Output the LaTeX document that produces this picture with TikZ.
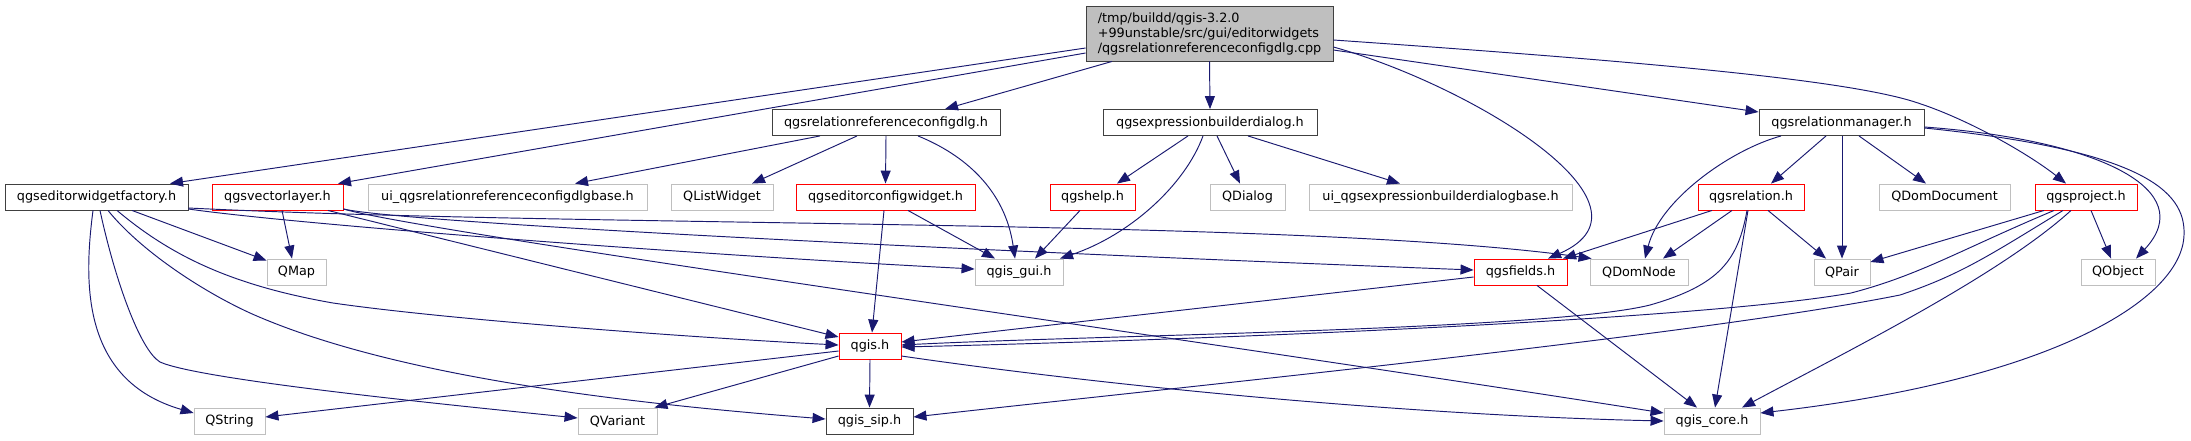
\documentclass[tikz,border=0pt]{standalone}
\usepackage{fontspec}
\setmainfont{DejaVu Sans}
\usetikzlibrary{arrows.meta}
\definecolor{edgec}{HTML}{191970}
\definecolor{bk}{HTML}{404040}
\definecolor{gr}{HTML}{BFBFBF}
\definecolor{rd}{HTML}{FF0000}
\definecolor{rootfill}{HTML}{BFBFBF}
\begin{document}
\begin{tikzpicture}[x=1pt,y=-1pt,
  box/.style={draw, line width=0.9pt, minimum height=26pt, inner sep=0pt, font=\fontsize{12.8}{15}\selectfont, fill=white},
  bbox/.style={box, draw=bk},
  gbox/.style={box, draw=gr},
  rbox/.style={box, draw=rd},
  dep/.style={draw=edgec, line width=0.95pt, -{Triangle[length=13pt,width=10pt]}},
]
\useasboundingbox[fill=white] (0,0) rectangle (2191,440);

% row 1
\node[bbox, fill=rootfill, minimum width=247pt, minimum height=55pt, align=left] (R) at (1209.5,33.5)
  {/tmp/buildd/qgis-3.2.0\\+99unstable/src/gui/editorwidgets\\/qgsrelationreferenceconfigdlg.cpp};
% row 2
\node[bbox, minimum width=228pt] (RRC) at (886,122.5) {qgsrelationreferenceconfigdlg.h};
\node[bbox, minimum width=214pt] (EBD) at (1210,122.5) {qgsexpressionbuilderdialog.h};
\node[bbox, minimum width=165pt] (RM) at (1841.5,122.5) {qgsrelationmanager.h};
% row 3
\node[bbox, minimum width=183pt] (EWF) at (96.5,197) {qgseditorwidgetfactory.h};
\node[rbox, minimum width=131pt] (VL) at (277.5,197) {qgsvectorlayer.h};
\node[gbox, minimum width=279pt] (UIRRC) at (507.5,197) {ui\_qgsrelationreferenceconfigdlgbase.h};
\node[gbox, minimum width=102pt] (QLW) at (722,197) {QListWidget};
\node[rbox, minimum width=179pt] (ECW) at (885.5,197) {qgseditorconfigwidget.h};
\node[rbox, minimum width=85pt] (HELP) at (1092.5,197) {qgshelp.h};
\node[gbox, minimum width=75pt] (QDIA) at (1247.5,197) {QDialog};
\node[gbox, minimum width=263pt] (UIEBD) at (1440.5,197) {ui\_qgsexpressionbuilderdialogbase.h};
\node[rbox, minimum width=106pt] (QR) at (1751,197) {qgsrelation.h};
\node[gbox, minimum width=131pt] (QDD) at (1944.5,197) {QDomDocument};
\node[rbox, minimum width=102pt] (QP) at (2086,197) {qgsproject.h};
% row 4
\node[gbox, minimum width=59pt] (QMAP) at (296.5,272) {QMap};
\node[gbox, minimum width=88pt] (GUI) at (1019,272) {qgis\_gui.h};
\node[rbox, minimum width=93pt] (QF) at (1520.5,272) {qgsfields.h};
\node[gbox, minimum width=98pt] (QDN) at (1639,272) {QDomNode};
\node[gbox, minimum width=56pt] (QPAIR) at (1842,272) {QPair};
\node[gbox, minimum width=74pt] (QOBJ) at (2118,272) {QObject};
% row 5
\node[rbox, minimum width=62pt] (QGIS) at (870,346) {qgis.h};
% row 6
\node[gbox, minimum width=71pt] (QSTR) at (229.5,421) {QString};
\node[gbox, minimum width=79pt] (QVAR) at (617.5,421) {QVariant};
\node[bbox, minimum width=87pt] (SIP) at (869.5,421) {qgis\_sip.h};
\node[gbox, minimum width=96pt] (CORE) at (1712,421) {qgis\_core.h};

% root edges
\draw[dep] ([yshift=-14.5pt]R.west) -- ([xshift=73.5pt]EWF.north);
\draw[dep] ([yshift=-19.5pt]R.west) -- ([xshift=60.5pt]VL.north);
\draw[dep] ([xshift=-97.5pt]R.south) -- ([xshift=59pt]RRC.north);
\draw[dep] (R.south) -- (EBD.north);
\draw[dep] ([yshift=-13.5pt]R.east) .. controls (1470,85) and (1670,205) .. ([xshift=27.5pt]QF.north);
\draw[dep] ([yshift=-16.5pt]R.east) -- ([yshift=10.5pt]RM.west);
\draw[dep] ([yshift=-6.5pt]R.east) .. controls (1650,62) and (1850,80) .. (1918,103) .. controls (1970,120) and (2030,155) .. ([xshift=-20pt]QP.north);

% qgsrelationreferenceconfigdlg.h
\draw[dep] ([xshift=-66pt]RRC.south) -- ([xshift=67.5pt]UIRRC.north);
\draw[dep] ([xshift=-29pt]RRC.south) -- ([xshift=30pt]QLW.north);
\draw[dep] (RRC.south) -- (ECW.north);
\draw[dep] ([xshift=32pt]RRC.south) .. controls (965,155) and (1005,190) .. ([xshift=-4pt]GUI.north);

% qgsexpressionbuilderdialog.h
\draw[dep] ([xshift=-22pt]EBD.south) -- ([xshift=24.5pt]HELP.north);
\draw[dep] ([xshift=-7pt]EBD.south) .. controls (1185,185) and (1130,235) .. ([xshift=41pt]GUI.north);
\draw[dep] ([xshift=7pt]EBD.south) -- ([xshift=-7.5pt]QDIA.north);
\draw[dep] ([xshift=38pt]EBD.south) -- ([xshift=-40.5pt]UIEBD.north);

% qgsrelationmanager.h
\draw[dep] ([xshift=-15.5pt]RM.south) -- ([xshift=20pt]QR.north);
\draw[dep] ([xshift=0.5pt]RM.south) -- (QPAIR.north);
\draw[dep] ([xshift=17.5pt]RM.south) -- ([xshift=-18.5pt]QDD.north);
\draw[dep] ([xshift=-60.5pt]RM.south) .. controls (1730,150) and (1660,200) .. ([xshift=6pt]QDN.north);
\draw[dep] ([yshift=-4.5pt]RM.east) .. controls (2100,140) and (2200,190) .. ([xshift=18pt]QOBJ.north);
\draw[dep] ([yshift=-5.5pt]RM.east) .. controls (2140,150) and (2186,190) .. (2184,235) .. controls (2182,300) and (2050,380) .. ([yshift=8pt]CORE.east);

% qgseditorwidgetfactory.h
\draw[dep] ([xshift=35.5pt]EWF.south) -- ([yshift=-2pt]QMAP.north west);
\draw[dep] ([xshift=-3.5pt]EWF.south) .. controls (84,280) and (80,380) .. ([yshift=8pt]QSTR.west);
\draw[dep] ([xshift=3.5pt]EWF.south) .. controls (115,280) and (140,350) .. (160,362) .. controls (200,380) and (450,405) .. ([yshift=3pt]QVAR.west);
\draw[dep] ([xshift=11.5pt]EWF.south) .. controls (140,250) and (200,290) .. (250,313) .. controls (400,380) and (650,405) .. ([yshift=2pt]SIP.west);
\draw[dep] ([xshift=20.5pt]EWF.south) .. controls (170,255) and (230,285) .. (333,303) .. controls (450,320) and (700,338) .. ([yshift=1pt]QGIS.west);
\draw[dep] ([yshift=-12pt]EWF.east) .. controls (300,225) and (700,255) .. ([yshift=3pt]GUI.west);
\draw[dep] ([yshift=-11pt]EWF.east) .. controls (600,228) and (1300,218) .. ([xshift=2pt]QDN.north west);

% qgsvectorlayer.h
\draw[dep] ([xshift=4.5pt]VL.south) -- ([xshift=-4.5pt]QMAP.north);
\draw[dep] ([xshift=50.5pt]VL.south) -- ([yshift=9pt]QGIS.west);
\draw[dep] ([yshift=-12pt]VL.east) .. controls (400,222) and (900,248) .. ([yshift=2pt]QF.west);
\draw[dep] ([yshift=-12pt]VL.east) .. controls (420,232) and (1200,340) .. ([yshift=8pt]CORE.west);

% qgseditorconfigwidget.h, qgshelp.h
\draw[dep] ([xshift=22.5pt]ECW.south) -- ([xshift=-24pt]GUI.north);
\draw[dep] ([xshift=-1.5pt]ECW.south) -- ([xshift=2pt]QGIS.north);
\draw[dep] ([xshift=-12.5pt]HELP.south) -- ([xshift=16pt]GUI.north);

% qgsrelation.h
\draw[dep] ([xshift=-39pt]QR.south) -- ([xshift=42.5pt]QF.north);
\draw[dep] ([xshift=-19pt]QR.south) -- ([xshift=24pt]QDN.north);
\draw[dep] ([xshift=17pt]QR.south) -- ([xshift=-16pt]QPAIR.north);
\draw[dep] ([xshift=-4pt]QR.south) .. controls (1738,260) and (1720,285) .. (1650,305) .. controls (1550,330) and (1100,335) .. ([yshift=1pt]QGIS.east);
\draw[dep] ([xshift=-3pt]QR.south) -- ([xshift=3pt]CORE.north);

% qgsproject.h
\draw[dep] ([xshift=-42pt]QP.south) -- ([yshift=10pt]QPAIR.east);
\draw[dep] ([xshift=-32pt]QP.south) .. controls (1960,250) and (1920,275) .. (1851,293) .. controls (1700,320) and (1200,340) .. ([yshift=-1pt]QGIS.east);
\draw[dep] ([xshift=-23pt]QP.south) .. controls (1990,255) and (1960,275) .. (1900,295) .. controls (1700,335) and (1200,385) .. ([yshift=4pt]SIP.east);
\draw[dep] ([xshift=-15pt]QP.south) .. controls (2000,275) and (1850,350) .. ([xshift=30pt]CORE.north);
\draw[dep] ([xshift=5pt]QP.south) -- ([xshift=-7pt]QOBJ.north);

% qgsfields.h
\draw[dep] ([yshift=-5pt]QF.west) -- ([yshift=4pt]QGIS.east);
\draw[dep] ([xshift=16.5pt]QF.south) -- ([xshift=-15pt]CORE.north);

% qgis.h
\draw[dep] ([yshift=-5pt]QGIS.west) -- ([yshift=4pt]QSTR.east);
\draw[dep] ([yshift=-10pt]QGIS.west) -- ([xshift=-3pt]QVAR.north east);
\draw[dep] (QGIS.south) -- (SIP.north);
\draw[dep] ([yshift=-10pt]QGIS.east) .. controls (1100,385) and (1400,415) .. (CORE.west);
\end{tikzpicture}
\end{document}
